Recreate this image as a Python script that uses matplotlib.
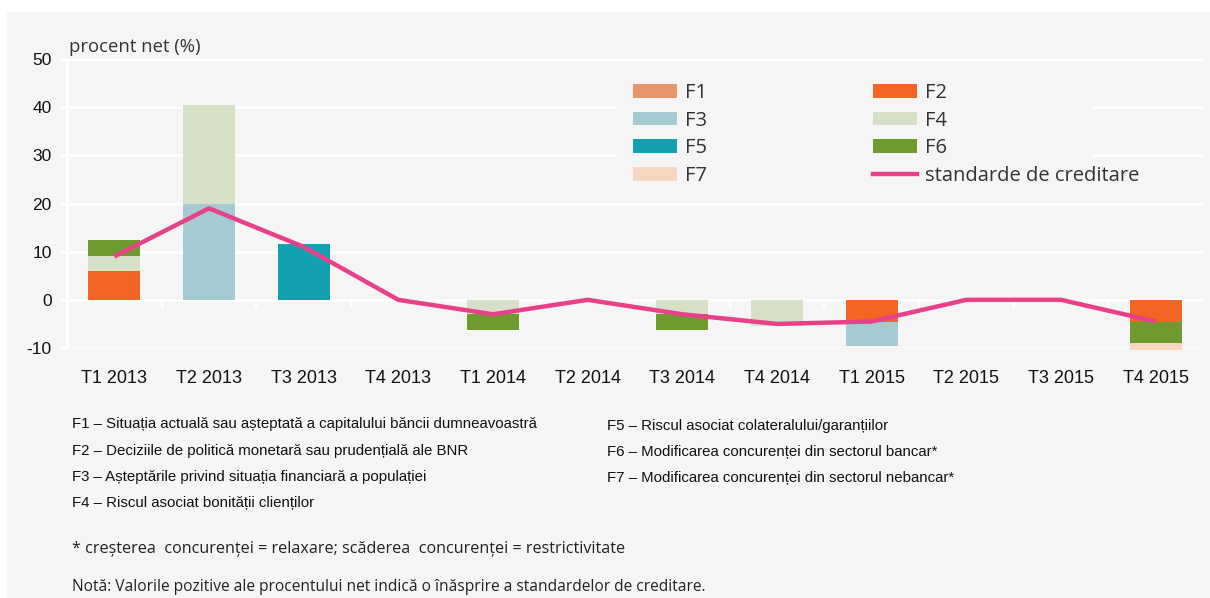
import numpy as np
import matplotlib
matplotlib.use("Agg")
import matplotlib.pyplot as plt
from matplotlib.patches import Patch, Rectangle
from matplotlib.lines import Line2D
from matplotlib import font_manager

# date
trimestre = ["T1 2013", "T2 2013", "T3 2013", "T4 2013", "T1 2014", "T2 2014",
             "T3 2014", "T4 2014", "T1 2015", "T2 2015", "T3 2015", "T4 2015"]
F1 = [0, 0, 0, 0, 0, 0, 0, 0, 0, 0, 0, 0]
F2 = [6, 0, 0, 0, 0, 0, 0, 0, -4.5, 0, 0, -4.5]
F3 = [0, 20, 0, 0, 0, 0, 0, 0, -5, 0, 0, 0]
F4 = [3, 20.5, 0, 0, -3, 0, -3, -5.5, 0, 0, 0, 0]
F5 = [0, 0, 11.5, 0, 0, 0, 0, 0, 0, 0, 0, 0]
F6 = [3.5, 0, 0, 0, -3.3, 0, -3.3, 0, 0, 0, 0, -4.5]
F7 = [0, 0, 0, 0, 0, 0, 0, 0, 0, 0, 0, -1.5]
standarde = [9, 19, 11, 0, -3, 0, -3, -5, -4.5, 0, 0, -4.5]

factori = ["F1", "F2", "F3", "F4", "F5", "F6", "F7"]
culori = ["#e8956b", "#f26522", "#a5cbd2", "#d6e0c7", "#13a0b0", "#6e9a2f", "#f6d5c1"]
culoare_linie = "#e8408a"

note_st = ["F1 – Situația actuală sau așteptată a capitalului băncii dumneavoastră",
           "F2 – Deciziile de politică monetară sau prudențială ale BNR",
           "F3 – Așteptările privind situația financiară a populației",
           "F4 – Riscul asociat bonității clienților"]
note_dr = ["F5 – Riscul asociat colateralului/garanțiilor",
           "F6 – Modificarea concurenței din sectorul bancar*",
           "F7 – Modificarea concurenței din sectorul nebancar*"]

# fonturi
disponibile = set(f.name for f in font_manager.fontManager.ttflist)
ingust = "Liberation Sans Narrow" if "Liberation Sans Narrow" in disponibile else "Liberation Sans"
subtire = "Open Sans" if "Open Sans" in disponibile else "DejaVu Sans"
plt.rcParams['font.family'] = [ingust, 'DejaVu Sans']
plt.rcParams['axes.unicode_minus'] = False

fundal = "#f5f5f5"
fig = plt.figure(figsize=(12.1, 5.98), dpi=100)
fig.patch.set_facecolor("white")
fig.patches.append(Rectangle((7 / 1210, 0), 1, 1 - 12 / 598, transform=fig.transFigure,
                             facecolor=fundal, edgecolor="none", zorder=-10))

ax = fig.add_axes([67 / 1210, 1 - 348 / 598, 1136 / 1210, 289 / 598])
ax.set_facecolor(fundal)

x = np.arange(len(trimestre))
serii = [F1, F2, F3, F4, F5, F6, F7]
baza_poz = np.zeros(len(x))
baza_neg = np.zeros(len(x))
for nume, val, c in zip(factori, serii, culori):
    val = np.array(val, dtype=float)
    poz = np.where(val > 0, val, 0)
    neg = np.where(val < 0, val, 0)
    ax.bar(x, poz, 0.55, bottom=baza_poz, color=c, zorder=3, clip_on=False)
    ax.bar(x, neg, 0.55, bottom=baza_neg, color=c, zorder=3, clip_on=False)
    baza_poz += poz
    baza_neg += neg

ax.plot(x, standarde, color=culoare_linie, lw=3.2, zorder=5, solid_capstyle="butt")

ax.set_xlim(-0.5, len(x) - 0.5)
ax.set_ylim(-10, 50)
ax.set_yticks(np.arange(-10, 51, 10))
ax.grid(axis="y", color="white", lw=1.8, zorder=1)
ax.set_axisbelow(True)
for s in ["top", "right", "bottom"]:
    ax.spines[s].set_visible(False)
ax.spines["left"].set_color("white")
ax.spines["left"].set_linewidth(1.8)
ax.tick_params(axis="y", colors="white", length=5, width=1.8, labelcolor="#111111",
               labelsize=12.5, pad=6)
ax.set_xticks(x)
ax.set_xticklabels(trimestre, fontsize=13, color="#111111")
ax.tick_params(axis="x", length=0, pad=16)

# separatoare mici pe axa zero
ax.vlines(x[:-1] + 0.5, -1.6, 0, color="white", lw=1.5, zorder=2)

ax.text(0.002, 1.012, "procent net (%)", transform=ax.transAxes, fontsize=13.3,
        family=[subtire, 'DejaVu Sans'], color="#333333", va="bottom")

# fundalul legendei
ax.add_patch(Rectangle((0.483, 0.55), 0.42, 0.41, transform=ax.transAxes,
                       facecolor=fundal, edgecolor="none", zorder=1.5))

h = {f: Patch(facecolor=c, edgecolor="none") for f, c in zip(factori, culori)}
h_linie = Line2D([0], [0], color=culoare_linie, lw=3.2)
handles = [h["F1"], h["F3"], h["F5"], h["F7"], h["F2"], h["F4"], h["F6"], h_linie]
labels = ["F1", "F3", "F5", "F7", "F2", "F4", "F6", "standarde de creditare"]
leg = fig.legend(handles, labels, ncol=2, loc="upper left",
                 bbox_to_anchor=(633 / 1210, 1 - 83 / 598), frameon=False,
                 prop={"family": [subtire, 'DejaVu Sans'], "size": 14.5},
                 handlelength=2.2, handleheight=0.66, handletextpad=0.4,
                 columnspacing=8.2, labelspacing=0.38, borderpad=0, borderaxespad=0)
for t in leg.get_texts():
    t.set_color("#333333")

# note
for i, t in enumerate(note_st):
    fig.text(72 / 1210, 1 - (424 + i * 26.5) / 598, t, fontsize=10.8, color="#111111", va="center")
for i, t in enumerate(note_dr):
    fig.text(607 / 1210, 1 - (426 + i * 26) / 598, t, fontsize=10.8, color="#111111", va="center")

fig.text(72 / 1210, 1 - 549 / 598,
         "* creșterea  concurenței = relaxare; scăderea  concurenței = restrictivitate",
         fontsize=11.6, family=[subtire, 'DejaVu Sans'], color="#222222", va="center")
fig.text(72 / 1210, 1 - 587 / 598,
         "Notă: Valorile pozitive ale procentului net indică o înăsprire a standardelor de creditare.",
         fontsize=11.2, family=[subtire, 'DejaVu Sans'], color="#222222", va="center")

fig.savefig("out.png", dpi=100, facecolor=fig.get_facecolor())
